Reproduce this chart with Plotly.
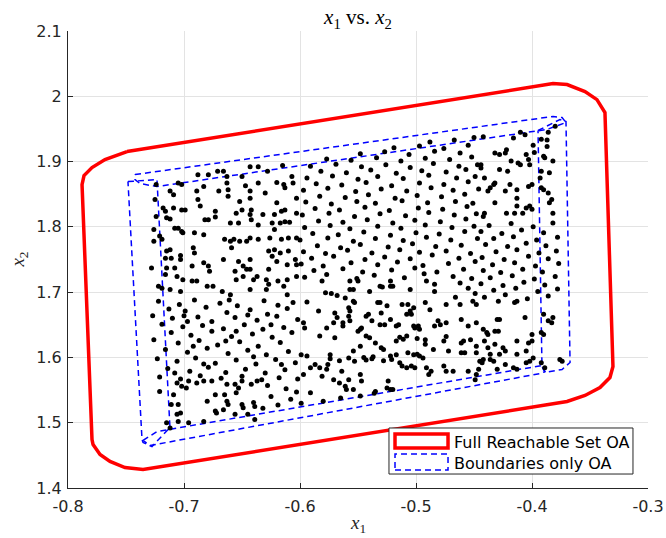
import plotly.graph_objects as go

# Full reachable set outer approximation (red)
red_x = [-0.7491, -0.3819, -0.3698, -0.3543, -0.3440, -0.3371, -0.3302, -0.3328, -0.3414, -0.3543,
         -0.3698, -0.7353, -0.7509, -0.7638, -0.7724, -0.7784, -0.7793, -0.7879, -0.7862, -0.7793,
         -0.7681, -0.7552, -0.7491]
red_y = [1.9153, 2.0194, 2.0179, 2.0072, 1.9949, 1.9750, 1.5861, 1.5692, 1.5539, 1.5417,
         1.5325, 1.4283, 1.4314, 1.4406, 1.4513, 1.4666, 1.4743, 1.8648, 1.8786, 1.8908,
         1.9031, 1.9123, 1.9153]

# Boundaries-only outer approximation (blue): four strips
blue_left_x = [-0.7483, -0.7233, -0.7121, -0.7276, -0.7353, -0.7362, -0.7483]
blue_left_y = [1.8694, 1.8724, 1.4926, 1.4636, 1.4697, 1.4743, 1.8694]
blue_top_x = [-0.7422, -0.3819, -0.3741, -0.3707, -0.3871, -0.7233, -0.7379, -0.7422, -0.7422]
blue_top_y = [1.8801, 1.9691, 1.9675, 1.9599, 1.9492, 1.8617, 1.8663, 1.8724, 1.8801]
blue_right_x = [-0.3948, -0.3759, -0.3707, -0.3672, -0.3741, -0.3888, -0.3914, -0.3948]
blue_right_y = [1.9476, 1.9645, 1.9614, 1.5922, 1.5815, 1.5769, 1.5861, 1.9476]
blue_bottom_x = [-0.7353, -0.7233, -0.3914, -0.3888, -0.3931, -0.7293, -0.7353]
blue_bottom_y = [1.4728, 1.4865, 1.5876, 1.5784, 1.5753, 1.4651, 1.4728]

# Sampled trajectories end points (x1, x2), read region by region
pts_upper_left = [
    (-0.724, 1.865), (-0.705, 1.867), (-0.702, 1.865), (-0.683, 1.862), (-0.663, 1.867), (-0.647, 1.863),
    (-0.636, 1.867), (-0.620, 1.868), (-0.614, 1.865), (-0.606, 1.867), (-0.725, 1.842), (-0.712, 1.855),
    (-0.709, 1.849), (-0.689, 1.855), (-0.670, 1.855), (-0.662, 1.857), (-0.662, 1.847), (-0.643, 1.855),
    (-0.630, 1.852), (-0.613, 1.860), (-0.688, 1.842), (-0.652, 1.839), (-0.643, 1.844), (-0.620, 1.837),
    (-0.603, 1.844), (-0.718, 1.829), (-0.716, 1.824), (-0.709, 1.829), (-0.702, 1.826), (-0.699, 1.826),
    (-0.686, 1.832), (-0.673, 1.824), (-0.655, 1.821), (-0.650, 1.826), (-0.642, 1.826), (-0.643, 1.819),
    (-0.632, 1.819), (-0.622, 1.819), (-0.616, 1.824), (-0.613, 1.826), (-0.603, 1.821), (-0.724, 1.816),
    (-0.715, 1.814), (-0.712, 1.812), (-0.682, 1.811), (-0.679, 1.811), (-0.673, 1.815), (-0.660, 1.806),
    (-0.653, 1.806), (-0.642, 1.811), (-0.636, 1.803), (-0.624, 1.806), (-0.622, 1.796), (-0.617, 1.806),
    (-0.613, 1.808), (-0.609, 1.807), (-0.726, 1.796), (-0.708, 1.798), (-0.705, 1.798), (-0.702, 1.793),
    (-0.701, 1.791), (-0.691, 1.791), (-0.683, 1.788), (-0.660, 1.778), (-0.657, 1.781), (-0.652, 1.778),
    (-0.646, 1.778), (-0.643, 1.783), (-0.636, 1.781), (-0.626, 1.783), (-0.616, 1.781), (-0.610, 1.783),
    (-0.603, 1.783), (-0.726, 1.778), (-0.721, 1.786), (-0.719, 1.781), (-0.665, 1.781), (-0.659, 1.768),
    (-0.715, 1.763), (-0.712, 1.765), (-0.692, 1.768), (-0.691, 1.760), (-0.666, 1.750), (-0.643, 1.750),
    (-0.627, 1.763), (-0.622, 1.765), (-0.617, 1.760), (-0.610, 1.763), (-0.604, 1.750), (-0.603, 1.742),
    (-0.611, 1.742), (-0.620, 1.747), (-0.624, 1.755), (-0.716, 1.752), (-0.711, 1.752), (-0.703, 1.750),
    (-0.703, 1.756), (-0.683, 1.745), (-0.653, 1.747), (-0.649, 1.740), (-0.646, 1.735), (-0.643, 1.735),
    (-0.715, 1.737), (-0.708, 1.737), (-0.693, 1.740), (-0.679, 1.740), (-0.678, 1.732), (-0.656, 1.732),
    (-0.637, 1.724), (-0.640, 1.719), (-0.649, 1.724), (-0.627, 1.735), (-0.629, 1.719), (-0.619, 1.717),
    (-0.611, 1.719), (-0.603, 1.724), (-0.728, 1.737), (-0.716, 1.727), (-0.706, 1.724), (-0.701, 1.719),
    (-0.693, 1.717), (-0.689, 1.717), (-0.680, 1.709), (-0.675, 1.709), (-0.655, 1.719), (-0.627, 1.712),
    (-0.614, 1.709), (-0.722, 1.709), (-0.719, 1.706), (-0.712, 1.704), (-0.703, 1.701), (-0.667, 1.701),
    (-0.660, 1.696), (-0.643, 1.704), (-0.629, 1.704), (-0.611, 1.696),
    (-0.688, 1.880), (-0.679, 1.880), (-0.671, 1.885), (-0.666, 1.885), (-0.663, 1.877), (-0.650, 1.877),
    (-0.643, 1.892), (-0.636, 1.892), (-0.628, 1.885), (-0.615, 1.894), (-0.607, 1.877),
]

pts_center = [
    (-0.581, 1.717), (-0.578, 1.699), (-0.573, 1.698), (-0.568, 1.695), (-0.561, 1.691), (-0.557, 1.704),
    (-0.554, 1.704), (-0.557, 1.717), (-0.550, 1.717), (-0.540, 1.701), (-0.531, 1.709), (-0.529, 1.708),
    (-0.522, 1.717), (-0.522, 1.709), (-0.520, 1.709), (-0.505, 1.704), (-0.491, 1.717), (-0.484, 1.712),
    (-0.484, 1.701),
    (-0.594, 1.685), (-0.584, 1.671), (-0.570, 1.668), (-0.568, 1.661), (-0.571, 1.653), (-0.563, 1.653),
    (-0.558, 1.676), (-0.557, 1.671), (-0.558, 1.663), (-0.557, 1.656), (-0.554, 1.686), (-0.553, 1.684),
    (-0.543, 1.663), (-0.541, 1.666), (-0.538, 1.656), (-0.533, 1.684), (-0.531, 1.684), (-0.525, 1.679),
    (-0.530, 1.668), (-0.522, 1.658), (-0.517, 1.648), (-0.515, 1.650), (-0.512, 1.681), (-0.507, 1.681),
    (-0.508, 1.666), (-0.505, 1.671), (-0.502, 1.676), (-0.504, 1.666), (-0.492, 1.684), (-0.488, 1.673),
    (-0.474, 1.681), (-0.474, 1.653), (-0.479, 1.650), (-0.484, 1.648),
    (-0.597, 1.653), (-0.596, 1.645), (-0.577, 1.645), (-0.583, 1.633), (-0.563, 1.648), (-0.570, 1.630),
    (-0.547, 1.645), (-0.548, 1.643), (-0.550, 1.640), (-0.543, 1.633), (-0.540, 1.630), (-0.535, 1.622),
    (-0.530, 1.615), (-0.528, 1.612), (-0.531, 1.650), (-0.527, 1.650), (-0.514, 1.631), (-0.517, 1.625),
    (-0.511, 1.628), (-0.508, 1.633), (-0.502, 1.648), (-0.501, 1.645), (-0.499, 1.629), (-0.498, 1.648),
    (-0.497, 1.643), (-0.492, 1.627), (-0.492, 1.620), (-0.485, 1.612), (-0.476, 1.625), (-0.474, 1.632),
    (-0.472, 1.610), (-0.481, 1.656),
    (-0.599, 1.604), (-0.594, 1.602), (-0.587, 1.589), (-0.591, 1.584), (-0.583, 1.584), (-0.581, 1.571),
    (-0.574, 1.604), (-0.574, 1.598), (-0.576, 1.589), (-0.577, 1.582), (-0.566, 1.595), (-0.564, 1.579),
    (-0.558, 1.599), (-0.554, 1.610), (-0.553, 1.594), (-0.548, 1.617), (-0.545, 1.600), (-0.543, 1.596),
    (-0.538, 1.598), (-0.537, 1.601), (-0.528, 1.595), (-0.522, 1.602), (-0.521, 1.597), (-0.517, 1.604),
    (-0.514, 1.592), (-0.512, 1.587), (-0.508, 1.584), (-0.507, 1.607), (-0.502, 1.604), (-0.499, 1.605),
    (-0.497, 1.602), (-0.494, 1.599), (-0.501, 1.584), (-0.504, 1.587), (-0.491, 1.584), (-0.489, 1.574),
    (-0.487, 1.579), (-0.476, 1.587), (-0.474, 1.579),
    (-0.597, 1.574), (-0.591, 1.546), (-0.571, 1.566), (-0.566, 1.561), (-0.561, 1.556), (-0.560, 1.551),
    (-0.558, 1.566), (-0.554, 1.551), (-0.548, 1.574), (-0.547, 1.564), (-0.535, 1.548), (-0.525, 1.553),
    (-0.524, 1.564), (-0.522, 1.551), (-0.520, 1.551),
    (-0.580, 1.533), (-0.565, 1.538), (-0.548, 1.541), (-0.536, 1.545), (-0.599, 1.530),
]

pts_lower_right = [
    (-0.462, 1.681), (-0.451, 1.686), (-0.448, 1.681), (-0.429, 1.686), (-0.415, 1.684), (-0.413, 1.686),
    (-0.461, 1.658), (-0.455, 1.648), (-0.448, 1.653), (-0.442, 1.643), (-0.439, 1.638), (-0.438, 1.635),
    (-0.430, 1.658), (-0.428, 1.658), (-0.432, 1.640), (-0.429, 1.640), (-0.406, 1.661), (-0.390, 1.666),
    (-0.386, 1.656), (-0.382, 1.661), (-0.383, 1.653),
    (-0.459, 1.625), (-0.461, 1.622), (-0.453, 1.627), (-0.448, 1.617), (-0.441, 1.625), (-0.438, 1.615),
    (-0.432, 1.620), (-0.425, 1.615), (-0.413, 1.625), (-0.403, 1.622), (-0.400, 1.635), (-0.392, 1.638),
    (-0.390, 1.635), (-0.400, 1.625),
    (-0.461, 1.607), (-0.458, 1.607), (-0.448, 1.607), (-0.436, 1.605), (-0.428, 1.605), (-0.423, 1.610),
    (-0.405, 1.610), (-0.413, 1.605), (-0.392, 1.592), (-0.389, 1.584), (-0.376, 1.597), (-0.374, 1.594),
    (-0.468, 1.579), (-0.455, 1.579), (-0.446, 1.582), (-0.443, 1.592), (-0.445, 1.594), (-0.442, 1.597),
    (-0.436, 1.597), (-0.433, 1.594), (-0.430, 1.582), (-0.423, 1.589), (-0.416, 1.584), (-0.413, 1.582),
    (-0.405, 1.592), (-0.402, 1.594), (-0.399, 1.599), (-0.449, 1.566), (-0.448, 1.574),
]

pts_upper_right = [
    (-0.380, 1.954), (-0.386, 1.945), (-0.392, 1.934), (-0.387, 1.933), (-0.387, 1.923), (-0.399, 1.925),
    (-0.398, 1.914), (-0.405, 1.911), (-0.403, 1.903), (-0.390, 1.908), (-0.389, 1.906), (-0.382, 1.901),
    (-0.392, 1.885), (-0.385, 1.883), (-0.393, 1.875), (-0.400, 1.865), (-0.403, 1.862), (-0.392, 1.860),
    (-0.390, 1.857), (-0.386, 1.852), (-0.383, 1.842), (-0.385, 1.837), (-0.402, 1.832), (-0.400, 1.827),
    (-0.408, 1.821), (-0.405, 1.829), (-0.413, 1.832), (-0.415, 1.821), (-0.422, 1.821), (-0.419, 1.865),
    (-0.423, 1.855), (-0.413, 1.857), (-0.413, 1.844), (-0.421, 1.885), (-0.418, 1.901), (-0.412, 1.898),
    (-0.410, 1.895), (-0.402, 1.895), (-0.428, 1.888), (-0.432, 1.913), (-0.428, 1.911), (-0.423, 1.913),
    (-0.422, 1.918), (-0.410, 1.945), (-0.406, 1.941), (-0.416, 1.936), (-0.442, 1.938), (-0.444, 1.895),
    (-0.444, 1.890), (-0.441, 1.875), (-0.436, 1.860), (-0.433, 1.865), (-0.432, 1.867), (-0.438, 1.855),
    (-0.432, 1.837), (-0.441, 1.821), (-0.442, 1.816), (-0.382, 1.821),
    (-0.441, 1.692), (-0.423, 1.696), (-0.404, 1.690), (-0.386, 1.694), (-0.433, 1.703), (-0.414, 1.706),
    (-0.395, 1.701), (-0.378, 1.705), (-0.444, 1.713), (-0.425, 1.710), (-0.407, 1.715), (-0.389, 1.711),
    (-0.436, 1.722), (-0.417, 1.725), (-0.398, 1.720), (-0.380, 1.724), (-0.442, 1.733), (-0.427, 1.730),
    (-0.408, 1.735), (-0.391, 1.731), (-0.434, 1.742), (-0.415, 1.745), (-0.397, 1.740), (-0.377, 1.744),
    (-0.443, 1.753), (-0.424, 1.750), (-0.403, 1.755), (-0.386, 1.751), (-0.431, 1.762), (-0.413, 1.765),
    (-0.394, 1.760), (-0.379, 1.763), (-0.440, 1.773), (-0.421, 1.770), (-0.405, 1.775), (-0.388, 1.771),
    (-0.433, 1.782), (-0.416, 1.785), (-0.396, 1.780), (-0.378, 1.784), (-0.444, 1.793), (-0.426, 1.790),
    (-0.409, 1.795), (-0.390, 1.791), (-0.437, 1.802), (-0.418, 1.805), (-0.399, 1.800), (-0.382, 1.806),
    (-0.466, 1.692), (-0.455, 1.706), (-0.462, 1.714), (-0.449, 1.698),
]

pts_upper_middle = [
    (-0.596, 1.723), (-0.577, 1.727), (-0.551, 1.721), (-0.536, 1.726), (-0.510, 1.722), (-0.493, 1.728),
    (-0.468, 1.724), (-0.452, 1.721), (-0.588, 1.733), (-0.563, 1.736), (-0.546, 1.731), (-0.521, 1.734),
    (-0.501, 1.737), (-0.482, 1.731), (-0.459, 1.735), (-0.599, 1.743), (-0.580, 1.740), (-0.556, 1.745),
    (-0.533, 1.742), (-0.516, 1.746), (-0.494, 1.741), (-0.472, 1.744), (-0.449, 1.747), (-0.590, 1.752),
    (-0.571, 1.755), (-0.544, 1.750), (-0.527, 1.754), (-0.505, 1.751), (-0.486, 1.757), (-0.463, 1.752),
    (-0.597, 1.762), (-0.578, 1.759), (-0.559, 1.764), (-0.538, 1.760), (-0.514, 1.765), (-0.497, 1.761),
    (-0.474, 1.763), (-0.453, 1.759), (-0.585, 1.771), (-0.565, 1.768), (-0.548, 1.773), (-0.524, 1.769),
    (-0.503, 1.774), (-0.483, 1.770), (-0.461, 1.772), (-0.600, 1.780), (-0.576, 1.783), (-0.554, 1.778),
    (-0.535, 1.782), (-0.511, 1.779), (-0.491, 1.784), (-0.470, 1.780), (-0.447, 1.782), (-0.589, 1.790),
    (-0.567, 1.788), (-0.545, 1.792), (-0.522, 1.787), (-0.500, 1.791), (-0.480, 1.789), (-0.458, 1.793),
    (-0.596, 1.799), (-0.574, 1.802), (-0.557, 1.797), (-0.533, 1.801), (-0.513, 1.798), (-0.492, 1.803),
    (-0.469, 1.799), (-0.450, 1.801), (-0.584, 1.809), (-0.563, 1.807), (-0.542, 1.811), (-0.520, 1.806),
    (-0.501, 1.810), (-0.479, 1.808), (-0.457, 1.812), (-0.598, 1.818), (-0.575, 1.821), (-0.553, 1.816),
    (-0.531, 1.820), (-0.509, 1.817), (-0.489, 1.822), (-0.467, 1.818), (-0.448, 1.820), (-0.587, 1.828),
    (-0.566, 1.826), (-0.544, 1.830), (-0.523, 1.825), (-0.498, 1.829), (-0.477, 1.827), (-0.456, 1.831),
    (-0.595, 1.838), (-0.573, 1.835), (-0.551, 1.839), (-0.535, 1.836), (-0.512, 1.840), (-0.490, 1.837),
    (-0.466, 1.839), (-0.451, 1.836), (-0.583, 1.847), (-0.561, 1.845), (-0.541, 1.849), (-0.518, 1.844),
    (-0.499, 1.848), (-0.478, 1.846), (-0.458, 1.850), (-0.597, 1.856), (-0.576, 1.859), (-0.552, 1.854),
    (-0.530, 1.858), (-0.508, 1.855), (-0.487, 1.860), (-0.468, 1.856), (-0.446, 1.858), (-0.586, 1.866),
    (-0.564, 1.864), (-0.543, 1.868), (-0.521, 1.863), (-0.497, 1.867), (-0.476, 1.865), (-0.455, 1.869),
    (-0.594, 1.875), (-0.572, 1.878), (-0.550, 1.873), (-0.533, 1.877), (-0.511, 1.874), (-0.489, 1.879),
    (-0.465, 1.875), (-0.449, 1.877), (-0.582, 1.885), (-0.560, 1.883), (-0.539, 1.887), (-0.517, 1.882),
    (-0.495, 1.886), (-0.474, 1.884), (-0.457, 1.888), (-0.591, 1.893), (-0.569, 1.896), (-0.547, 1.892),
    (-0.526, 1.895), (-0.505, 1.891), (-0.485, 1.897), (-0.463, 1.893), (-0.447, 1.895), (-0.577, 1.904),
    (-0.556, 1.902), (-0.534, 1.906), (-0.513, 1.901), (-0.492, 1.905), (-0.471, 1.903), (-0.452, 1.907),
    (-0.548, 1.912), (-0.527, 1.915), (-0.506, 1.911), (-0.484, 1.916), (-0.462, 1.913), (-0.519, 1.921),
    (-0.497, 1.924), (-0.476, 1.920), (-0.455, 1.925), (-0.488, 1.930), (-0.467, 1.933), (-0.450, 1.937),
]

pts_lower_left = [
    (-0.721, 1.548), (-0.709, 1.543), (-0.706, 1.561), (-0.702, 1.556), (-0.698, 1.553), (-0.696, 1.564),
    (-0.689, 1.561), (-0.683, 1.564), (-0.676, 1.564), (-0.663, 1.559), (-0.656, 1.559), (-0.653, 1.553),
    (-0.650, 1.564), (-0.642, 1.559), (-0.637, 1.564), (-0.673, 1.543), (-0.680, 1.533), (-0.665, 1.543),
    (-0.663, 1.533), (-0.662, 1.528), (-0.655, 1.546), (-0.650, 1.528), (-0.649, 1.523), (-0.640, 1.531),
    (-0.639, 1.525), (-0.711, 1.528), (-0.705, 1.528), (-0.703, 1.515), (-0.706, 1.513), (-0.673, 1.518),
    (-0.672, 1.515), (-0.666, 1.520), (-0.656, 1.513), (-0.645, 1.513), (-0.639, 1.505), (-0.715, 1.500),
    (-0.705, 1.502), (-0.696, 1.500), (-0.683, 1.502), (-0.712, 1.492),
    (-0.722, 1.686), (-0.704, 1.681), (-0.691, 1.688), (-0.669, 1.683), (-0.654, 1.679), (-0.631, 1.687),
    (-0.619, 1.680), (-0.606, 1.684), (-0.713, 1.674), (-0.699, 1.671), (-0.681, 1.677), (-0.663, 1.669),
    (-0.643, 1.673), (-0.628, 1.666), (-0.611, 1.675), (-0.727, 1.664), (-0.710, 1.660), (-0.688, 1.662),
    (-0.676, 1.655), (-0.656, 1.661), (-0.637, 1.657), (-0.620, 1.663), (-0.602, 1.658), (-0.719, 1.651),
    (-0.701, 1.647), (-0.684, 1.649), (-0.666, 1.644), (-0.648, 1.650), (-0.632, 1.643), (-0.614, 1.646),
    (-0.711, 1.638), (-0.694, 1.634), (-0.676, 1.640), (-0.659, 1.632), (-0.641, 1.636), (-0.624, 1.631),
    (-0.607, 1.638), (-0.726, 1.627), (-0.705, 1.622), (-0.687, 1.626), (-0.671, 1.619), (-0.652, 1.624),
    (-0.636, 1.617), (-0.617, 1.623), (-0.716, 1.612), (-0.697, 1.608), (-0.680, 1.614), (-0.662, 1.606),
    (-0.645, 1.611), (-0.629, 1.604), (-0.610, 1.609), (-0.723, 1.598), (-0.706, 1.594), (-0.690, 1.599),
    (-0.673, 1.591), (-0.655, 1.596), (-0.638, 1.590), (-0.621, 1.597), (-0.604, 1.592), (-0.714, 1.583),
    (-0.695, 1.579), (-0.679, 1.585), (-0.664, 1.577), (-0.647, 1.582), (-0.630, 1.576), (-0.613, 1.581),
    (-0.721, 1.570), (-0.703, 1.567), (-0.686, 1.572), (-0.668, 1.568), (-0.650, 1.571), (-0.633, 1.566),
    (-0.618, 1.569), (-0.602, 1.567), (-0.628, 1.557), (-0.612, 1.552), (-0.625, 1.540), (-0.608, 1.536),
    (-0.619, 1.527), (-0.603, 1.547), (-0.632, 1.522), (-0.697, 1.655), (-0.661, 1.688), (-0.640, 1.601),
    (-0.683, 1.590), (-0.708, 1.576), (-0.692, 1.617), (-0.655, 1.640), (-0.625, 1.650), (-0.700, 1.664),
    (-0.664, 1.625), (-0.616, 1.589), (-0.645, 1.665),
]

all_pts = pts_upper_left + pts_center + pts_lower_right + pts_upper_right + pts_upper_middle + pts_lower_left
dots_x = [p[0] for p in all_pts]
dots_y = [p[1] for p in all_pts]

x_ticks = [-0.8, -0.7, -0.6, -0.5, -0.4, -0.3]
y_ticks = [1.4, 1.5, 1.6, 1.7, 1.8, 1.9, 2.0, 2.1]
x_tick_text = ["-0.8", "-0.7", "-0.6", "-0.5", "-0.4", "-0.3"]
y_tick_text = ["1.4", "1.5", "1.6", "1.7", "1.8", "1.9", "2", "2.1"]
legend_labels = ["Full Reachable Set OA", "Boundaries only OA"]

RED = "#ff0000"
BLUE = "#0000ff"
AX = "#262626"
GRID = "#e3e3e3"
TFONT = "DejaVu Sans"
SERIF = "Liberation Serif"

fig = go.Figure()
fig.add_trace(go.Scatter(x=red_x, y=red_y, mode="lines",
                         line=dict(color=RED, width=3.5), showlegend=False, hoverinfo="skip"))
for bx, by in [(blue_left_x, blue_left_y), (blue_top_x, blue_top_y),
               (blue_right_x, blue_right_y), (blue_bottom_x, blue_bottom_y)]:
    fig.add_trace(go.Scatter(x=bx, y=by, mode="lines",
                             line=dict(color=BLUE, width=1.5, dash="6px,4px"),
                             showlegend=False, hoverinfo="skip"))
fig.add_trace(go.Scatter(x=dots_x, y=dots_y, mode="markers",
                         marker=dict(color="black", size=5, line=dict(width=0)),
                         showlegend=False))

axis_common = dict(showgrid=True, gridcolor=GRID, gridwidth=1, zeroline=False,
                   showline=True, linecolor=AX, linewidth=1, ticks="inside",
                   ticklen=5, tickcolor=AX, automargin=False,
                   tickfont=dict(family=TFONT, size=16, color=AX))

fig.update_layout(
    width=666, height=538,
    margin=dict(l=68, r=18, t=31, b=50),
    paper_bgcolor="white", plot_bgcolor="white",
    xaxis=dict(range=[-0.8, -0.3], tickvals=x_ticks, ticktext=x_tick_text,
               ticklabelstandoff=4, **axis_common),
    yaxis=dict(range=[1.4, 2.1], tickvals=y_ticks, ticktext=y_tick_text,
               ticklabelstandoff=2, **axis_common),
    title=dict(text="<i>x</i><sub>1</sub> vs. <i>x</i><sub>2</sub>",
               x=0.5, xref="paper", y=(538 - 17) / 538, yref="container",
               xanchor="center", yanchor="middle",
               font=dict(family=SERIF, size=21, color="black")),
    showlegend=False,
)

# axis labels
fig.add_annotation(text="<i>x</i><sub>1</sub>", x=0.5, y=-0.078, xref="paper", yref="paper",
                   xanchor="center", yanchor="middle", showarrow=False,
                   font=dict(family=SERIF, size=19, color=AX))
fig.add_annotation(text="<i>x</i><sub>2</sub>", x=-0.086, y=0.5, xref="paper", yref="paper",
                   xanchor="center", yanchor="middle", showarrow=False, textangle=-90,
                   font=dict(family=SERIF, size=19, color=AX))

# legend box (MATLAB style)
fig.add_shape(type="rect", xref="paper", yref="paper", x0=0.5534, x1=0.9741, y0=0.0306, y1=0.1313,
              line=dict(color=AX, width=1), fillcolor="white", layer="above")
fig.add_shape(type="rect", xref="paper", yref="paper", x0=0.5638, x1=0.6552, y0=0.0875, y1=0.1182,
              line=dict(color=RED, width=3.5), fillcolor="rgba(0,0,0,0)", layer="above")
fig.add_shape(type="rect", xref="paper", yref="paper", x0=0.5638, x1=0.6552, y0=0.0394, y1=0.0744,
              line=dict(color=BLUE, width=1.5, dash="6px,4px"), fillcolor="rgba(0,0,0,0)", layer="above")
for lbl, ly in zip(legend_labels, [0.0991, 0.0547]):
    fig.add_annotation(text=lbl, x=0.6621, y=ly, xref="paper", yref="paper",
                       xanchor="left", yanchor="middle", showarrow=False,
                       font=dict(family=TFONT, size=16, color="black"))

fig.write_html("out.html")
